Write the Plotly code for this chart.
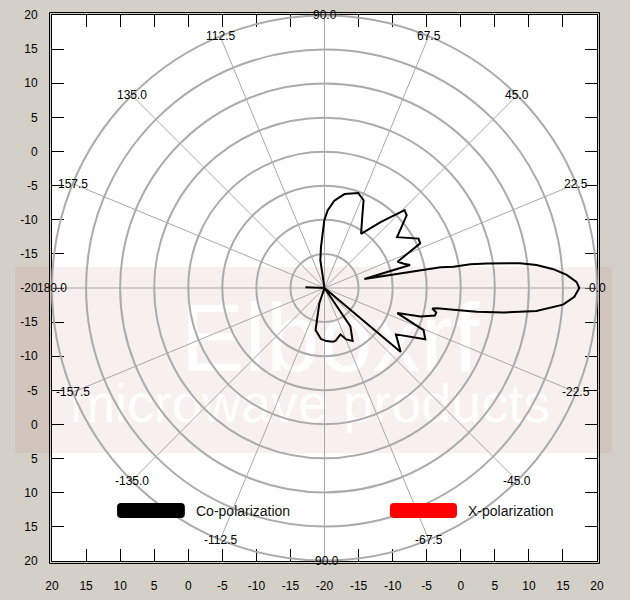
import numpy as np
import plotly.graph_objects as go

# antenna pattern: azimuth (deg) vs level (dB)
co_angle = [-170, -112, -108.5, -102, -94, -88, -81, -78, -71, -67, -62, -56,
            -48, -40, -33, -27, -23, -19, -16.6, -14, -12.4, -10.8, -10.2,
            -9.6, -8.9, -7.8, -6.2, -4, -2, 0, 1.4, 3.1, 4.7, 6.2, 7.2, 8.6,
            9.2, 9.4, 10.1, 12.8, 15, 17, 19.8, 25, 27.7, 35, 41.5, 44.2,
            49.6, 56, 62, 66, 70.5, 78, 83.6, 87.7, 90.2, 95, 98.5, 103,
            176, 178]
co_db = [-25, -25, -17.6, -13.7, -12.5, -12.2, -12.0, -12.1, -12.8, -11.8,
         -11.2, -13.2, -25, -5.4, -7.5, -3.4, -4.2, -8.7, -5.3, -3.3, -3.2,
         -3.9, -3.2, -0.8, 2.6, 6.5, 11.3, 15.1, 16.7, 17.4, 17.0, 15.6, 13.7,
         11.3, 8.9, 4.1, 1.7, -0.8, -2.7, -14.0, -7.0, -7.8, -8.6, -4.5, -4.4,
         -7.0, -3.9, -3.6, -7.3, -10.4, -8.2, -5.9, -5.2, -5.9, -7.1, -8.6,
         -10.1, -14.0, -15.9, -25, -25, -17.2]

xp_angle = [-90, -45, -20, 0, 20, 45, 90]
xp_db = [-34, -31, -27, -24, -27, -30, -35]

series_names = ["Co-polarization", "X-polarization"]
series_colors = ["black", "red"]

r_min, r_max = -20, 20
ring_vals = [-15, -10, -5, 0, 5, 10, 15]
spoke_angles = [0.0, 22.5, 45.0, 67.5, 90.0, 112.5, 135.0, 157.5, 180.0,
                -157.5, -135.0, -112.5, -90.0, -67.5, -45.0, -22.5]
axis_vals = list(range(-40, 41, 5))
axis_text = [str(abs(v) - 20) for v in axis_vals]

FONT = "Liberation Sans, Arial, sans-serif"
W, H = 630, 600
ML, MR, MT, MB = 52, 33, 15, 39
pw, ph = W - ML - MR, H - MT - MB
R = r_max - r_min  # outer radius in data units of the frame axes


def rounded_rect(x0, y0, x1, y1, rad):
    return (f"M{x0+rad},{y0} L{x1-rad},{y0} Q{x1},{y0} {x1},{y0+rad} "
            f"L{x1},{y1-rad} Q{x1},{y1} {x1-rad},{y1} L{x0+rad},{y1} "
            f"Q{x0},{y1} {x0},{y1-rad} L{x0},{y0+rad} Q{x0},{y0} {x0+rad},{y0} Z")


fig = go.Figure()

# watermark (sits under the polar layer)
fig.add_trace(go.Scatter(
    x=[0.8, -2.1], y=[-8.7, -17.6],
    mode="text",
    text=["Elboxrf", "microwave products"],
    textfont=dict(family=FONT, size=[96, 54],
                  color="rgba(255,255,255,0.9)"),
    hoverinfo="skip", showlegend=False,
))

fig.add_trace(go.Scatterpolar(
    theta=xp_angle, r=np.clip(xp_db, r_min, None),
    mode="lines", line=dict(color=series_colors[1], width=2),
    name=series_names[1], showlegend=False, hoverinfo="skip",
))
fig.add_trace(go.Scatterpolar(
    theta=co_angle, r=np.clip(co_db, r_min, None),
    mode="lines", line=dict(color=series_colors[0], width=2),
    name=series_names[0], showlegend=False, hoverinfo="skip",
))

# spoke labels at the end of each spoke
for a in spoke_angles:
    t = np.radians(a)
    fig.add_annotation(
        x=R * np.cos(t), y=R * np.sin(t), xref="x", yref="y",
        text=f"{a:.1f}", showarrow=False, xanchor="center", yanchor="middle",
        font=dict(family=FONT, size=12, color="black"),
    )

# legend drawn by hand
leg_y0, leg_y1 = -31.5, -33.7
leg_x = [(-30.45, -20.5), (9.6, 19.45)]
for (x0, x1), name, col in zip(leg_x, series_names, series_colors):
    fig.add_shape(type="path", xref="x", yref="y",
                  path=rounded_rect(x0, leg_y1, x1, leg_y0, 0.6),
                  fillcolor=col, line=dict(color=col, width=0))
    fig.add_annotation(x=x1 + 1.3, y=(leg_y0 + leg_y1) / 2, xref="x", yref="y",
                       text=name, showarrow=False, xanchor="left",
                       yanchor="middle",
                       font=dict(family=FONT, size=14, color="#111111"))

# pink watermark band
fig.add_shape(type="rect", xref="paper", yref="paper", layer="below",
              x0=(15 - ML) / pw, x1=(612 - ML) / pw,
              y0=(H - MB - 453) / ph, y1=(H - MB - 267) / ph,
              fillcolor="rgba(190,110,100,0.1)", line=dict(width=0))

# double frame: outer line
pad = 2.5
fig.add_shape(type="rect", xref="paper", yref="paper",
              x0=-pad / pw, x1=1 + pad / pw, y0=-pad / ph, y1=1 + pad / ph,
              line=dict(color="black", width=1))

axis_common = dict(
    range=[-R, R], tickmode="array", tickvals=axis_vals, ticktext=axis_text,
    ticks="inside", ticklen=12, tickcolor="black", tickwidth=1,
    showline=True, linecolor="black", linewidth=1, mirror="ticks",
    showgrid=False, zeroline=False, fixedrange=True, automargin=False,
    tickfont=dict(family=FONT, size=12, color="black"),
)
fig.update_xaxes(**axis_common, ticklabelstandoff=14)
fig.update_yaxes(**axis_common, ticklabelstandoff=11)

fig.update_layout(
    width=W, height=H,
    margin=dict(l=ML, r=MR, t=MT, b=MB),
    paper_bgcolor="#D4D0C8",
    plot_bgcolor="white",
    showlegend=False,
    polar=dict(
        domain=dict(x=[0, 1], y=[0, 1]),
        bgcolor="rgba(0,0,0,0)",
        radialaxis=dict(range=[r_min, r_max], tickvals=ring_vals,
                        showticklabels=False, ticks="", showline=False,
                        gridcolor="#ABABAB", gridwidth=2),
        angularaxis=dict(rotation=0, direction="counterclockwise",
                         tickmode="linear", tick0=0, dtick=22.5,
                         showticklabels=False, ticks="",
                         gridcolor="#A8A8A8", gridwidth=1,
                         showline=True, linecolor="#ABABAB", linewidth=2),
    ),
)

# the page body has a default 8px margin; drop it so the figure fills the window
fig.write_html("out.html", config={"displayModeBar": False},
               post_script="document.body.style.margin='0px';")
